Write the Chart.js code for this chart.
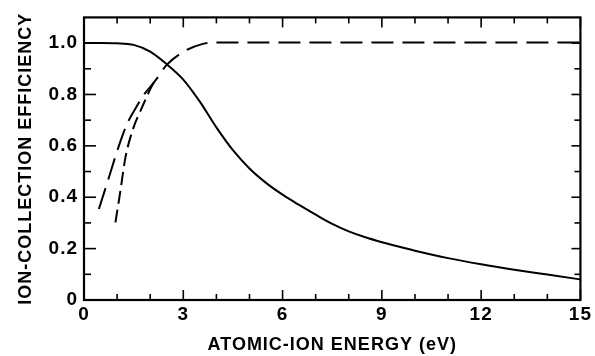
<!DOCTYPE html>
<html>
<head>
<meta charset="utf-8">
<script src="https://cdn.jsdelivr.net/npm/chart.js@4/dist/chart.umd.min.js"></script>
<style>
html,body{margin:0;padding:0;background:#fff;}
canvas{display:block;}
</style>
</head>
<body>
<canvas id="c" width="595" height="356"></canvas>
<script>
// ---- data ----
const solidX = [0, 0.5, 1.0, 1.5, 2.0, 2.5, 3.0, 3.5, 4.0, 4.5, 5.0, 5.5, 6.0, 6.5, 7.0, 7.5, 8.0, 8.5, 9.0, 9.5, 10, 11, 12, 13, 14, 15];
const solidY = [1.0, 1.0, 0.999, 0.993, 0.967, 0.918, 0.858, 0.772, 0.672, 0.583, 0.512, 0.456, 0.41, 0.37, 0.332, 0.296, 0.267, 0.244, 0.225, 0.208, 0.192, 0.163, 0.139, 0.118, 0.099, 0.08];

const longDashX = [0.45, 0.75, 1.0, 1.29, 1.59, 1.84, 2.09, 2.2, 2.49, 2.99, 3.59, 3.97, 5, 8, 11, 15];
const longDashY = [0.354, 0.476, 0.579, 0.682, 0.753, 0.804, 0.843, 0.862, 0.914, 0.965, 0.997, 1.002, 1.002, 1.002, 1.002, 1.002];

const shortDashX = [0.95, 1.10, 1.25, 1.49, 1.74, 1.94, 2.09, 2.2];
const shortDashY = [0.302, 0.425, 0.553, 0.669, 0.746, 0.804, 0.843, 0.862];

const xMajorTicks = [0, 3, 6, 9, 12, 15];
const xMinorTicks = [1, 2, 4, 5, 7, 8, 10, 11, 13, 14];
const yMajorTicks = [0, 0.2, 0.4, 0.6, 0.8, 1.0];
const yMinorTicks = [0.1, 0.3, 0.5, 0.7, 0.9];

const xTitle = 'ATOMIC-ION ENERGY (eV)';
const yTitle = 'ION-COLLECTION EFFICIENCY';

const toPts = (xs, ys) => xs.map((x, i) => ({x: x, y: ys[i]}));

const FONT = "'Liberation Sans', Arial, Helvetica, sans-serif";

const spacing = {
  id: 'spacing',
  beforeUpdate(chart) { chart.ctx.letterSpacing = '1px'; },
  beforeDraw(chart) { chart.ctx.letterSpacing = '1px'; }
};

const frameTicks = {
  id: 'frameTicks',
  afterDatasetsDraw(chart) {
    const {ctx, chartArea: a, scales: {x, y}} = chart;
    ctx.save();
    ctx.strokeStyle = '#000';
    ctx.lineCap = 'butt';
    const ln = (x1, y1, x2, y2) => { ctx.beginPath(); ctx.moveTo(x1, y1); ctx.lineTo(x2, y2); ctx.stroke(); };
    ctx.lineWidth = 1.6;
    xMajorTicks.forEach(v => { const p = x.getPixelForValue(v); ln(p, a.bottom, p, a.bottom - 10); ln(p, a.top, p, a.top + 10); });
    xMinorTicks.forEach(v => { const p = x.getPixelForValue(v); ln(p, a.bottom, p, a.bottom - 6); ln(p, a.top, p, a.top + 6); });
    yMajorTicks.forEach(v => { const p = y.getPixelForValue(v); ln(a.left, p, a.left + 12, p); ln(a.right, p, a.right - 9, p); });
    yMinorTicks.forEach(v => { const p = y.getPixelForValue(v); ln(a.left, p, a.left + 7, p); ln(a.right, p, a.right - 6, p); });
    ctx.lineWidth = 2.2;
    ctx.strokeRect(a.left, a.top, a.right - a.left, a.bottom - a.top);
    ctx.restore();
  }
};

new Chart(document.getElementById('c'), {
  type: 'scatter',
  data: {
    datasets: [
      {data: toPts(solidX, solidY), showLine: true, borderColor: '#000', borderWidth: 2, pointRadius: 0, cubicInterpolationMode: 'monotone', fill: false},
      {data: toPts(longDashX, longDashY), showLine: true, borderColor: '#000', borderWidth: 2, borderDash: [22, 9], pointRadius: 0, cubicInterpolationMode: 'monotone', fill: false},
      {data: toPts(shortDashX, shortDashY), showLine: true, borderColor: '#000', borderWidth: 2, borderDash: [13, 6], pointRadius: 0, cubicInterpolationMode: 'monotone', fill: false}
    ]
  },
  options: {
    responsive: false,
    animation: false,
    devicePixelRatio: 1,
    layout: {padding: {left: 0, right: 9, top: 13, bottom: 0}},
    plugins: {legend: {display: false}, tooltip: {enabled: false}},
    scales: {
      x: {
        type: 'linear', min: 0, max: 15,
        grid: {display: false, drawTicks: false},
        border: {display: false},
        ticks: {stepSize: 3, color: '#000', font: {family: FONT, size: 19, weight: 'bold'}, padding: 3, maxRotation: 0,
                callback: v => String(v)},
        title: {display: true, text: xTitle, color: '#000', font: {family: FONT, size: 18, weight: 'bold'}, padding: {top: 0, bottom: 0}},
        afterFit: s => { s.height = 56; }
      },
      y: {
        type: 'linear', min: 0, max: 1.1,
        grid: {display: false, drawTicks: false},
        border: {display: false},
        ticks: {stepSize: 0.2, includeBounds: false, color: '#000', font: {family: FONT, size: 19, weight: 'bold'}, padding: 6,
                callback: v => v === 0 ? '0' : v.toFixed(1)},
        title: {display: true, text: yTitle, color: '#000', font: {family: FONT, size: 18, weight: 'bold'}, padding: {top: 15, bottom: 0}},
        afterFit: s => { s.width = 84; }
      }
    }
  },
  plugins: [spacing, frameTicks]
});
</script>
</body>
</html>
